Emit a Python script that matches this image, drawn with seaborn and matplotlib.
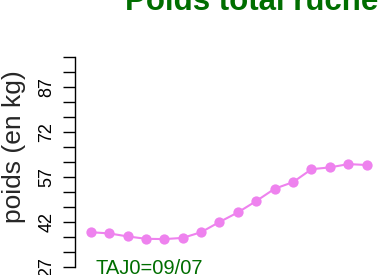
import matplotlib
matplotlib.use("Agg")
import matplotlib.pyplot as plt
import seaborn as sns
import pandas as pd

# daily hive weight (kg), day index from TAJ0
days = list(range(16))
weights = [38.7, 38.3, 37.3, 36.5, 36.4, 36.8, 38.7, 42.1, 45.3, 49.1,
           53.2, 55.4, 59.7, 60.3, 61.4, 61.1]
y_ticks = list(range(27, 98, 5))
y_labels = ["27", "42", "57", "72", "87"]

title = "Poids total ruche"
y_title = "poids (en kg)"
note = "TAJ0=09/07"
green = "#006e00"

sns.set_style("white")
plt.rcParams["font.family"] = ["Liberation Sans", "DejaVu Sans"]

W, H = 384, 275
fig = plt.figure(figsize=(W / 100, H / 100), dpi=100)

# plot region runs past the right and bottom edges (cropped original)
left_px, right_px, top_px, bot_px = 75, 429, 30, 290
ax = fig.add_axes([left_px / W, (H - bot_px) / H,
                   (right_px - left_px) / W, (bot_px - top_px) / H])

df = pd.DataFrame({"jour": days, "poids": weights})
sns.lineplot(data=df, x="jour", y="poids", ax=ax, color="violet",
             marker="o", markersize=7.4, markeredgewidth=0, linewidth=1.5)

x0, step = 90.7, 18.4
ax.set_xlim((left_px - x0) / step, (right_px - x0) / step)
y27, scale = 267.3, 3.0
ax.set_ylim(27 - (bot_px - y27) / scale, 27 + (y27 - top_px) / scale)

ax.set_yticks(y_ticks)
ax.set_yticklabels([str(v) if str(v) in y_labels else "" for v in y_ticks],
                   rotation=90, va="center", fontsize=13)
ax.tick_params(axis="y", direction="out", length=9, width=1, pad=5,
               left=True, colors="black")
ax.set_xticks([])
ax.set_xlabel("")
ax.set_ylabel("")
for side in ["top", "right", "bottom"]:
    ax.spines[side].set_visible(False)
ax.spines["left"].set_bounds(27, 97)
ax.spines["left"].set_linewidth(1)
ax.spines["left"].set_color("black")

fig.text(252 / W, (H - 9.5) / H, title, ha="center", va="baseline",
         fontsize=22.5, fontweight="bold", color=green)
fig.text(14 / W, (H - 147) / H, y_title, rotation=90, ha="center",
         va="center", fontsize=19)
fig.text(95 / W, (H - 273.5) / H, note, ha="left", va="baseline",
         fontsize=14.5, color=green)

fig.savefig("out.png", dpi=100)
